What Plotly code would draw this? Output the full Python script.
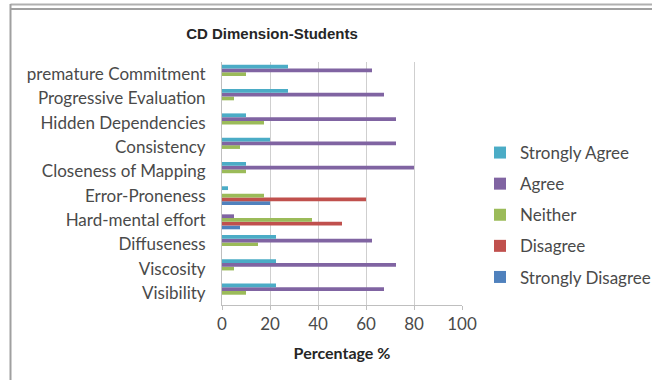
import plotly.graph_objects as go

categories = ["Visibility", "Viscosity", "Diffuseness", "Hard-mental effort", "Error-Proneness",
              "Closeness of Mapping", "Consistency", "Hidden Dependencies",
              "Progressive Evaluation", "premature Commitment"]
strongly_disagree = [0, 0, 0, 7.5, 20, 0, 0, 0, 0, 0]
disagree = [0, 0, 0, 50, 60, 0, 0, 0, 0, 0]
neither = [10, 5, 15, 37.5, 17.5, 10, 7.5, 17.5, 5, 10]
agree = [67.5, 72.5, 62.5, 5, 0, 80, 72.5, 72.5, 67.5, 62.5]
strongly_agree = [22.5, 22.5, 22.5, 0, 2.5, 10, 20, 10, 27.5, 27.5]
x_ticks = [0, 20, 40, 60, 80, 100]

series = [
    ("Strongly Disagree", strongly_disagree, "#4F81BD"),
    ("Disagree", disagree, "#C0504D"),
    ("Neither", neither, "#9BBB59"),
    ("Agree", agree, "#8064A2"),
    ("Strongly Agree", strongly_agree, "#4BACC6"),
]

W, H = 652, 380
L, R, T, B = 222, 190, 62, 75
pw, ph = W - L - R, H - T - B

def px(x):
    return (x - L) / pw

def py(y):
    return (H - B - y) / ph

fig = go.Figure()
for i, (name, vals, color) in enumerate(series):
    fig.add_trace(go.Bar(y=categories, x=vals, name=name, orientation="h", legendgroup=name,
                         legendrank=1000 - i,
                         marker=dict(color=color, line=dict(width=0))))

FONT = "Lato, Carlito, sans-serif"
label_font = dict(family=FONT, size=17, color="#4A4A4A")

fig.update_layout(
    width=W, height=H,
    margin=dict(l=L, r=R, t=T, b=B, autoexpand=False),
    paper_bgcolor="white", plot_bgcolor="white",
    barmode="group", bargap=0.23, bargroupgap=0,
    title=dict(text="<b>CD Dimension-Students</b>", x=272 / W, xanchor="center",
               y=1 - 34 / H, yanchor="middle",
               font=dict(family="Liberation Sans, Arial, sans-serif", size=15, color="#262626")),
    xaxis=dict(range=[0, 100], tickvals=x_ticks, showgrid=True, gridcolor="#CFCFCF",
               gridwidth=1, zeroline=False, showline=True, linecolor="#BFBFBF",
               ticks="outside", ticklen=4, tickcolor="#BFBFBF",
               tickfont=label_font,
               title=dict(text="<b>Percentage %</b>", standoff=14,
                          font=dict(family=FONT, size=16, color="#262626"))),
    yaxis=dict(showgrid=False, showline=True, linecolor="#BFBFBF", zeroline=False,
               ticks="", ticklabelstandoff=12, tickfont=label_font),
    legend=dict(traceorder="grouped", xref="container", yref="container",
                x=480 / W, xanchor="left", y=1 - 135 / H, yanchor="top",
                font=dict(family=FONT, size=17, color="#4A4A4A"),
                itemwidth=30, tracegroupgap=6, bgcolor="rgba(0,0,0,0)"),
    shapes=[
        dict(type="line", xref="paper", yref="paper", x0=px(10.5), x1=px(W), y0=py(4.5), y1=py(4.5),
             line=dict(color="#B0B0B0", width=2)),
        dict(type="line", xref="paper", yref="paper", x0=px(10.5), x1=px(W), y0=py(9), y1=py(9),
             line=dict(color="#A0A0A0", width=2)),
        dict(type="line", xref="paper", yref="paper", x0=px(10.5), x1=px(10.5), y0=py(4), y1=py(H),
             line=dict(color="#A0A0A0", width=2)),
    ],
)

fig.write_html("out.html", config={"displayModeBar": False},
               post_script="document.body.style.margin='0';document.body.style.overflow='hidden';")
